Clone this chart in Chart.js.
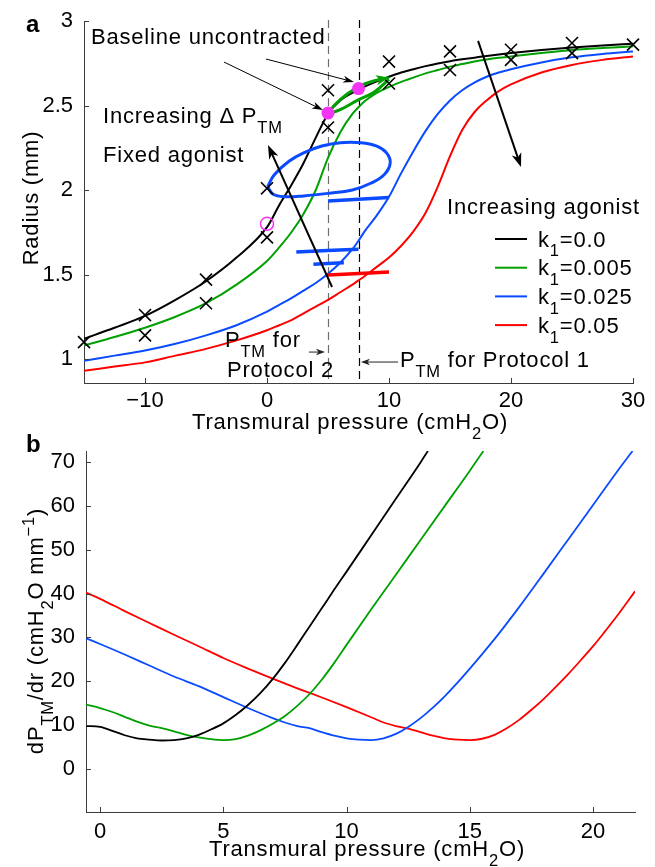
<!DOCTYPE html>
<html>
<head>
<meta charset="utf-8">
<script src="https://cdn.jsdelivr.net/npm/chart.js@4.4.1/dist/chart.umd.min.js"></script>
<style>
  html, body { margin: 0; padding: 0; background: #fff; }
  body { width: 655px; height: 867px; position: relative; overflow: hidden; }
  canvas { position: absolute; left: 0; }
  #chartA { top: 0; }
  #chartB { top: 425px; }
</style>
</head>
<body>
<canvas id="chartA" width="655" height="450"></canvas>
<canvas id="chartB" width="655" height="442"></canvas>
<script>
// ---- panel a: radius vs transmural pressure ----
const radX    = [-15, -12.5, -10, -7.5, -5, -2.5, 0, 1, 2, 3, 4, 5, 6, 7, 7.5, 8, 9, 10, 11, 12, 13, 14, 15, 16, 17, 18, 19, 20, 22.5, 25, 27.5, 30];
const radK0   = [1.12, 1.185, 1.255, 1.35, 1.46, 1.6, 1.78, 1.91, 2.03, 2.16, 2.31, 2.45, 2.53, 2.575, 2.595, 2.612, 2.643, 2.67, 2.695, 2.715, 2.733, 2.749, 2.762, 2.773, 2.783, 2.793, 2.802, 2.81, 2.828, 2.843, 2.855, 2.865];
const radK005 = [1.08, 1.13, 1.185, 1.25, 1.33, 1.44, 1.58, 1.66, 1.75, 1.86, 2.0, 2.19, 2.34, 2.45, 2.49, 2.525, 2.575, 2.61, 2.64, 2.665, 2.69, 2.71, 2.73, 2.745, 2.76, 2.772, 2.782, 2.79, 2.81, 2.828, 2.84, 2.85];
const radK025 = [0.99, 1.02, 1.05, 1.09, 1.14, 1.2, 1.28, 1.32, 1.36, 1.405, 1.45, 1.505, 1.57, 1.65, 1.7, 1.755, 1.85, 1.96, 2.1, 2.23, 2.35, 2.45, 2.53, 2.59, 2.635, 2.67, 2.695, 2.715, 2.755, 2.785, 2.805, 2.82];
const radK05  = [0.93, 0.955, 0.98, 1.02, 1.06, 1.11, 1.17, 1.2, 1.23, 1.27, 1.31, 1.35, 1.395, 1.44, 1.465, 1.49, 1.545, 1.6, 1.67, 1.755, 1.865, 2.02, 2.2, 2.355, 2.46, 2.53, 2.585, 2.625, 2.695, 2.74, 2.77, 2.79];

// experimental points (crosses)
const measX = [-15, -10, -10, -5, -5, 0, 0, 5, 5, 10, 10, 15, 15, 20, 20, 25, 25, 30];
const measR = [1.10, 1.26, 1.14, 1.47, 1.33, 2.01, 1.72, 2.59, 2.37, 2.76, 2.63, 2.82, 2.71, 2.83, 2.77, 2.87, 2.81, 2.86];

// baseline uncontracted states and the open marker
const baseX = [5, 7.5];
const baseR = [2.455, 2.60];
const openX = [0];
const openR = [1.80];

// green loop (k1=0.005, oscillating P_TM)
const loopGUpX = [5, 5.5, 6.6, 7.9, 9, 10];
const loopGUpR = [2.45, 2.5, 2.57, 2.625, 2.65, 2.665];
const loopGLoX = [5, 6, 7.4, 8.8, 10];
const loopGLoR = [2.45, 2.475, 2.53, 2.58, 2.655];

// blue loop (k1=0.025)
const loopBX = [0.05, 0.5, 1.5, 3, 5, 7, 8.5, 9.6, 10.1, 9.8, 9, 7.7, 6, 4.5, 3, 1.8, 0.6, 0.05];
const loopBR = [2.02, 1.975, 1.96, 1.965, 1.98, 2.0, 2.04, 2.09, 2.16, 2.22, 2.26, 2.28, 2.28, 2.26, 2.22, 2.17, 2.09, 2.02];

// short stubs
const stubB1X = [5, 10];    const stubB1R = [1.935, 1.955];
const stubB2X = [2.4, 7.5]; const stubB2R = [1.633, 1.65];
const stubB3X = [3.8, 6.3]; const stubB3R = [1.56, 1.57];
const stubRX  = [5, 10];    const stubRR  = [1.497, 1.515];

const protocolP = [5, 7.5];   // P_TM for protocol 2 and 1
const ticksAX = [-10, 0, 10, 20, 30];
const ticksAY = [1, 1.5, 2, 2.5, 3];

// ---- panel b: dP/dr ----
const bXk0   = [-0.57, 0, 0.5, 1, 1.5, 2, 2.5, 3, 3.5, 4, 4.5, 5, 5.5, 6, 6.5, 7, 7.5, 8, 8.5, 9, 9.5, 10, 11, 12, 13, 13.3];
const bYk0   = [9.8, 9.6, 8.7, 7.7, 7.0, 6.7, 6.5, 6.6, 7.0, 7.8, 9.0, 10.4, 12.3, 14.6, 17.3, 20.5, 24.2, 28.3, 32.5, 36.7, 40.9, 45.0, 53.3, 61.6, 69.9, 72.5];
const bXk005 = [-0.57, 0, 0.5, 1, 1.5, 2, 2.5, 3, 3.5, 4, 4.5, 5, 5.5, 6, 6.5, 7, 7.5, 8, 8.5, 9, 9.5, 10, 11, 12, 13, 14, 15, 15.55];
const bYk005 = [14.7, 13.9, 13.0, 11.9, 10.8, 9.9, 9.3, 8.6, 7.8, 7.2, 6.8, 6.6, 6.8, 7.6, 8.8, 10.3, 12.1, 14.4, 17.1, 20.4, 24.2, 28.3, 36.4, 44.3, 52.2, 60.1, 68.0, 72.5];
const bXk025 = [-0.57, 0, 1, 2, 3, 4, 5, 6, 7, 7.5, 8, 8.5, 9, 9.5, 10, 10.5, 11, 11.5, 12, 12.5, 13, 13.5, 14, 14.5, 15, 15.5, 16, 16.5, 17, 18, 19, 20, 21, 21.6];
const bYk025 = [29.8, 28.5, 26.1, 23.6, 21.1, 18.9, 16.4, 13.9, 11.6, 10.6, 9.8, 9.3, 8.4, 7.6, 7.0, 6.7, 6.6, 7.0, 8.0, 9.6, 11.6, 14.0, 16.7, 19.7, 22.9, 26.2, 29.6, 33.2, 36.9, 44.6, 52.4, 60.2, 68.0, 72.5];
const bXk05  = [-0.57, 0, 1, 2, 3, 4, 5, 6, 7, 8, 9, 10, 11, 11.5, 12, 12.5, 13, 13.5, 14, 14.5, 15, 15.5, 16, 16.5, 17, 17.5, 18, 18.5, 19, 19.5, 20, 20.5, 21, 21.7];
const bYk05  = [40.2, 38.8, 36.0, 33.3, 30.6, 28.0, 25.3, 22.9, 20.6, 18.4, 16.3, 14.1, 11.8, 10.6, 9.8, 9.2, 8.4, 7.6, 7.0, 6.7, 6.6, 6.9, 7.8, 9.3, 11.2, 13.5, 16.0, 18.8, 21.7, 24.8, 28.0, 31.5, 35.1, 40.5];
const ticksBX = [0, 5, 10, 15, 20];
const ticksBY = [0, 10, 20, 30, 40, 50, 60, 70];

const agonistLabels = ['0.0', '0.005', '0.025', '0.05'];
const colors = ['#000000', '#00a000', '#0a4bff', '#ff0000'];
const MAGENTA = '#f535f5';

const FONT = '"Liberation Sans", Arial, Helvetica, sans-serif';
Chart.defaults.font.family = FONT;
Chart.defaults.font.size = 22;
Chart.defaults.color = '#000';

const pts = (xs, ys) => xs.map((x, i) => ({ x: x, y: ys[i] }));
const fmt = v => (v < 0 ? '\u2212' + Math.abs(v) : String(v));

function curve(xs, ys, color, width, order, extra) {
    return Object.assign({
        data: pts(xs, ys), showLine: true, borderColor: color, backgroundColor: color,
        borderWidth: width, pointRadius: 0, fill: false,
        cubicInterpolationMode: 'monotone', order: order
    }, extra || {});
}

function linScale(min, max, tickVals, fitKey, fitVal, pad) {
    return {
        type: 'linear', min: min, max: max,
        grid: { display: false },
        border: { display: true, color: '#3c3c3c', width: 1 },
        ticks: { padding: pad, color: '#000', autoSkip: false, maxRotation: 0, callback: v => fmt(v) },
        afterBuildTicks: s => { s.ticks = tickVals.map(v => ({ value: v })); },
        afterFit: s => { s[fitKey] = fitVal; }
    };
}

// draw text made of normal / sub / sup pieces
function rich(ctx, parts, x, y, opt) {
    opt = opt || {};
    const size = opt.size || 22;
    ctx.save();
    if ('letterSpacing' in ctx) ctx.letterSpacing = (opt.spacing === undefined ? 0.8 : opt.spacing) + 'px';
    const segs = parts.map(p => {
        const t = Array.isArray(p) ? p[0] : p;
        const k = Array.isArray(p) ? p[1] : '';
        const s = k ? size * 0.75 : size;
        const font = (opt.bold ? 'bold ' : '') + s + 'px ' + FONT;
        ctx.font = font;
        return { t: t, font: font, dy: k === 'sub' ? size * 0.45 : (k === 'sup' ? -size * 0.42 : 0), w: ctx.measureText(t).width };
    });
    const total = segs.reduce((a, s) => a + s.w, 0);
    let cx = opt.align === 'center' ? x - total / 2 : (opt.align === 'right' ? x - total : x);
    ctx.textAlign = 'left';
    ctx.textBaseline = 'alphabetic';
    ctx.fillStyle = opt.color || '#000';
    segs.forEach(s => { ctx.font = s.font; ctx.fillText(s.t, cx, y + s.dy); cx += s.w; });
    ctx.restore();
}

function richVertical(ctx, parts, x, y, opt) {
    ctx.save();
    ctx.translate(x, y);
    ctx.rotate(-Math.PI / 2);
    rich(ctx, parts, 0, 0, Object.assign({ align: 'center' }, opt));
    ctx.restore();
}

function arrow(ctx, x1, y1, x2, y2, o) {
    const len = o.head || 10, hw = o.hw || 4;
    const ang = Math.atan2(y2 - y1, x2 - x1);
    const c = Math.cos(ang), s = Math.sin(ang);
    const bx = x2 - c * len, by = y2 - s * len;
    ctx.save();
    ctx.strokeStyle = o.color; ctx.fillStyle = o.color; ctx.lineWidth = o.width;
    if (!o.headOnly) {
        ctx.beginPath();
        ctx.moveTo(x1, y1);
        ctx.lineTo(x2 - c * len * 0.6, y2 - s * len * 0.6);
        ctx.stroke();
    }
    ctx.beginPath();
    ctx.moveTo(x2, y2);
    ctx.lineTo(bx - s * hw, by + c * hw);
    ctx.lineTo(x2 - c * len * 0.72, y2 - s * len * 0.72);
    ctx.lineTo(bx + s * hw, by - c * hw);
    ctx.closePath();
    ctx.fill();
    ctx.restore();
}

// MATLAB-like inward tick marks
const inwardTicks = {
    id: 'inwardTicks',
    afterDraw(chart) {
        const { ctx, chartArea: a, scales: { x, y } } = chart;
        ctx.save();
        ctx.strokeStyle = '#3c3c3c';
        ctx.lineWidth = 1;
        ctx.beginPath();
        x.ticks.forEach(t => {
            const p = Math.round(x.getPixelForValue(t.value)) + 0.5;
            ctx.moveTo(p, a.bottom); ctx.lineTo(p, a.bottom - 5);
        });
        y.ticks.forEach(t => {
            const p = Math.round(y.getPixelForValue(t.value)) + 0.5;
            ctx.moveTo(a.left, p); ctx.lineTo(a.left + 5, p);
        });
        ctx.stroke();
        ctx.restore();
    }
};

const annotA = {
    id: 'annotA',
    beforeDatasetsDraw(chart) {
        const { ctx, chartArea: a, scales: { x } } = chart;
        ctx.save();
        ctx.lineWidth = 1.2;
        ctx.setLineDash([8, 5]);
        protocolP.forEach((p, i) => {
            const px = Math.round(x.getPixelForValue(p)) + 0.5;
            ctx.strokeStyle = i === 0 ? '#6e6e6e' : '#000';
            ctx.beginPath(); ctx.moveTo(px, a.top - 1); ctx.lineTo(px, a.bottom); ctx.stroke();
        });
        ctx.restore();
    },
    afterDatasetsDraw(chart) {
        const { ctx, scales: { x, y } } = chart;
        const X = v => x.getPixelForValue(v), Y = v => y.getPixelForValue(v);
        const arr = (x1, y1, x2, y2, o) => arrow(ctx, X(x1), Y(y1), X(x2), Y(y2), o);

        // head of the green loop
        const n = loopGUpX.length;
        arr(loopGUpX[n - 2], loopGUpR[n - 2], loopGUpX[n - 1], loopGUpR[n - 1],
            { color: colors[1], width: 3, head: 13, hw: 5, headOnly: true });

        const thin = { color: '#000', width: 1, head: 11, hw: 3.5 };
        arr(-3.52, 2.757, 4.59, 2.473, thin);
        arr(-0.08, 2.775, 7.13, 2.639, thin);
        const thick = { color: '#000', width: 2, head: 14, hw: 5 };
        arr(5.33, 1.426, 0.08, 2.266, thick);
        arr(17.3, 2.882, 20.82, 2.136, thick);
        const small = { color: '#222', width: 1, head: 9, hw: 3.2 };
        arr(10.74, 0.982, 7.7, 0.982, small);
        arr(3.44, 1.041, 4.75, 1.041, small);

        // texts
        rich(ctx, ['Baseline uncontracted'], 91, 44);
        rich(ctx, ['Increasing \u0394 P', ['TM', 'sub']], 103, 123);
        rich(ctx, ['Fixed agonist'], 103, 162);
        rich(ctx, ['Increasing agonist'], 447, 214);
        rich(ctx, ['P', ['TM', 'sub'], ' for'], 225, 347);
        rich(ctx, ['Protocol 2'], 227, 377);
        rich(ctx, ['P', ['TM', 'sub'], ' for Protocol 1'], 400, 367);

        // legend
        agonistLabels.forEach((lab, i) => {
            const ly = 239 + i * 28.7;
            ctx.save();
            ctx.strokeStyle = colors[i]; ctx.lineWidth = 2;
            ctx.beginPath(); ctx.moveTo(495, ly); ctx.lineTo(527, ly); ctx.stroke();
            ctx.restore();
            rich(ctx, ['k', ['1', 'sub'], '=' + lab], 538, ly + 7.5);
        });
    },
    afterDraw(chart) {
        const { ctx } = chart;
        rich(ctx, ['a'], 26, 32, { bold: true, size: 24, spacing: 0 });
        richVertical(ctx, ['Radius (mm)'], 38, 198);
        rich(ctx, ['Transmural pressure (cmH', ['2', 'sub'], 'O)'], 350, 429, { align: 'center' });
    }
};

const annotB = {
    id: 'annotB',
    afterDraw(chart) {
        const { ctx } = chart;
        rich(ctx, ['b'], 26, 27, { bold: true, size: 24, spacing: 0 });
        richVertical(ctx, ['dP', ['TM', 'sub'], '/dr (cmH', ['2', 'sub'], 'O mm', ['\u22121', 'sup'], ')'], 43, 206);
        rich(ctx, ['Transmural pressure (cmH', ['2', 'sub'], 'O)'], 367, 431, { align: 'center' });
    }
};

const baseOptions = {
    responsive: false,
    animation: false,
    events: [],
    plugins: { legend: { display: false }, tooltip: { enabled: false } }
};

new Chart(document.getElementById('chartA'), {
    type: 'scatter',
    data: {
        datasets: [
            { data: pts(measX, measR), pointStyle: 'crossRot', pointRadius: 8.5, pointBorderWidth: 1.6,
              borderColor: '#000', backgroundColor: '#000', showLine: false, order: 0, clip: false },
            { data: pts(baseX, baseR), pointStyle: 'circle', pointRadius: 6.5, pointBorderWidth: 0,
              backgroundColor: MAGENTA, borderColor: MAGENTA, showLine: false, order: 1 },
            { data: pts(openX, openR), pointStyle: 'circle', pointRadius: 6.5, pointBorderWidth: 1.5,
              backgroundColor: 'rgba(0,0,0,0)', borderColor: MAGENTA, showLine: false, order: 1 },
            curve(loopGUpX, loopGUpR, colors[1], 3, 2, { cubicInterpolationMode: 'default', tension: 0.4 }),
            curve(loopGLoX, loopGLoR, colors[1], 3, 2, { cubicInterpolationMode: 'default', tension: 0.4 }),
            curve(loopBX, loopBR, colors[2], 3, 3, { cubicInterpolationMode: 'default', tension: 0.4 }),
            curve(stubB1X, stubB1R, colors[2], 3.5, 3),
            curve(stubB2X, stubB2R, colors[2], 3.5, 3),
            curve(stubB3X, stubB3R, colors[2], 3.5, 3),
            curve(stubRX, stubRR, colors[3], 3.5, 3),
            curve(radX, radK0, colors[0], 2, 4),
            curve(radX, radK005, colors[1], 2, 5),
            curve(radX, radK025, colors[2], 2, 6),
            curve(radX, radK05, colors[3], 2, 7)
        ]
    },
    options: Object.assign({}, baseOptions, {
        layout: { padding: { left: 0, top: 21, right: 22, bottom: 27 } },
        scales: {
            x: linScale(-15, 30, ticksAX, 'height', 40, -3),
            y: linScale(0.858, 3.0, ticksAY, 'width', 84, 3)
        }
    }),
    plugins: [inwardTicks, annotA]
});

new Chart(document.getElementById('chartB'), {
    type: 'scatter',
    data: {
        datasets: [
            curve(bXk0, bYk0, colors[0], 1.8, 0),
            curve(bXk005, bYk005, colors[1], 1.8, 1),
            curve(bXk025, bYk025, colors[2], 1.8, 2),
            curve(bXk05, bYk05, colors[3], 1.8, 3)
        ]
    },
    options: Object.assign({}, baseOptions, {
        layout: { padding: { left: 0, top: 26, right: 20, bottom: 15 } },
        scales: {
            x: linScale(-0.57, 21.7, ticksBX, 'height', 40, -1),
            y: linScale(-9.8, 72.5, ticksBY, 'width', 86, 3)
        }
    }),
    plugins: [inwardTicks, annotB]
});
</script>
</body>
</html>
